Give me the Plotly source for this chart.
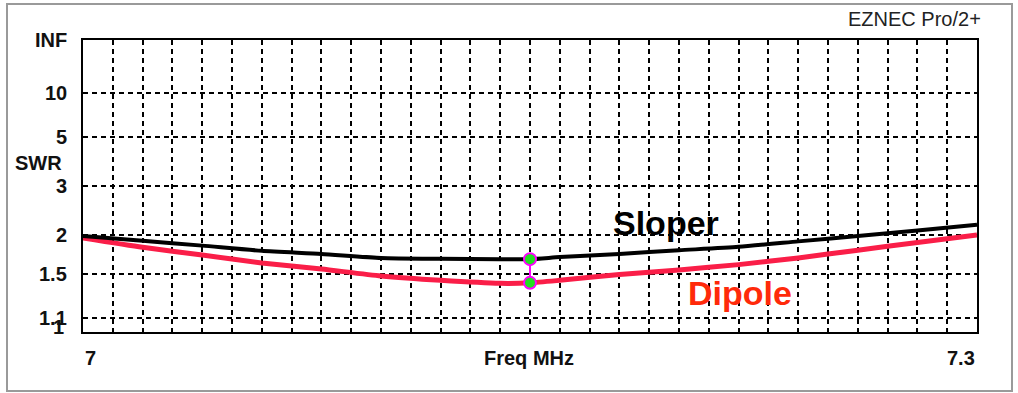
import plotly.graph_objects as go

# ---- data ----
freq = [7.00, 7.02, 7.04, 7.06, 7.08, 7.10, 7.12, 7.14, 7.15, 7.16, 7.18, 7.20, 7.22, 7.24, 7.26, 7.28, 7.30]
sloper_swr = [1.98, 1.91, 1.84, 1.77, 1.73, 1.68, 1.67, 1.665, 1.665, 1.69, 1.73, 1.777, 1.824, 1.90, 1.98, 2.067, 2.16]
dipole_swr = [1.95, 1.817, 1.715, 1.62, 1.55, 1.475, 1.43, 1.40, 1.405, 1.43, 1.49, 1.54, 1.60, 1.68, 1.778, 1.884, 1.995]
swr_grid = [1.1, 1.5, 2, 3, 5, 10]
swr_grid_labels = ["1.1", "1.5", "2", "3", "5", "10"]
freq_grid = [round(7.00 + 0.01 * i, 2) for i in range(1, 30)]
x_end_labels = ["7", "7.3"]
marker_freq = 7.15


def rho(s):
    # EZNEC SWR scale is linear in reflection coefficient
    return (s - 1.0) / (s + 1.0)


L, R, T, B = 83, 41, 40, 61
W, H = 1018, 393
PW, PH = W - L - R, H - T - B


def px(X):
    return (X - L) / PW


def py(Y):
    return (H - B - Y) / PH


FAM = "Liberation Sans, Arial, sans-serif"
LABEL_FONT = dict(family=FAM, size=20, color="#111111")
mi = freq.index(marker_freq)

fig = go.Figure()
fig.add_trace(go.Scatter(x=freq, y=[rho(s) for s in dipole_swr], mode="lines",
                         line=dict(color="#fa1e48", width=5, shape="spline", smoothing=0.6),
                         showlegend=False, hoverinfo="skip"))
fig.add_trace(go.Scatter(x=freq, y=[rho(s) for s in sloper_swr], mode="lines",
                         line=dict(color="#000000", width=4, shape="spline", smoothing=0.6),
                         showlegend=False, hoverinfo="skip"))
fig.add_trace(go.Scatter(x=[marker_freq, marker_freq],
                         y=[rho(sloper_swr[mi]), rho(dipole_swr[mi])], mode="lines+markers",
                         line=dict(color="#ff00ff", width=2),
                         marker=dict(size=12, color="#22dd22", line=dict(color="#ff00ff", width=2)),
                         showlegend=False, hoverinfo="skip"))

annotations = []
for v, t in zip(swr_grid, swr_grid_labels):
    annotations.append(dict(xref="paper", yref="y", x=0, y=rho(v), xshift=-14, xanchor="right",
                            yanchor="middle", text="<b>%s</b>" % t, showarrow=False, font=LABEL_FONT))
annotations.append(dict(xref="paper", yref="paper", x=0, y=1, xshift=-14, xanchor="right", yanchor="middle",
                        text="<b>INF</b>", showarrow=False, font=LABEL_FONT))
annotations.append(dict(xref="paper", yref="paper", x=0, y=0, xshift=-17, yshift=5, xanchor="right",
                        yanchor="middle", text="<b>1</b>", showarrow=False, font=LABEL_FONT))
annotations.append(dict(xref="paper", yref="paper", x=0, y=py(163), xshift=-19, xanchor="right",
                        yanchor="middle", text="<b>SWR</b>", showarrow=False, font=LABEL_FONT))
annotations.append(dict(xref="x", yref="paper", x=freq[0], y=py(358), xanchor="left", yanchor="middle",
                        text="<b>%s</b>" % x_end_labels[0], showarrow=False, font=LABEL_FONT))
annotations.append(dict(xref="x", yref="paper", x=freq[-1], y=py(358), xanchor="right", yanchor="middle",
                        text="<b>%s</b>" % x_end_labels[1], showarrow=False, font=LABEL_FONT))
annotations.append(dict(xref="paper", yref="paper", x=px(529), y=py(358), xanchor="center", yanchor="middle",
                        text="<b>Freq MHz</b>", showarrow=False, font=LABEL_FONT))
annotations.append(dict(xref="paper", yref="paper", x=px(983), y=py(19), xanchor="right", yanchor="middle",
                        text="EZNEC Pro/2+", showarrow=False,
                        font=dict(family=FAM, size=20, color="#222222")))
annotations.append(dict(xref="paper", yref="paper", x=px(666), y=py(223), xanchor="center", yanchor="middle",
                        text="<b>Sloper</b>", showarrow=False,
                        font=dict(family=FAM, size=34, color="#000000")))
annotations.append(dict(xref="paper", yref="paper", x=px(740), y=py(293), xanchor="center", yanchor="middle",
                        text="<b>Dipole</b>", showarrow=False,
                        font=dict(family=FAM, size=34, color="#ff2a0a")))

shapes = [dict(type="rect", xref="paper", yref="paper", x0=px(7), x1=px(1012), y0=py(391), y1=py(4),
               line=dict(color="#9a9a9a", width=2), fillcolor="rgba(0,0,0,0)", layer="below")]

fig.update_layout(
    width=W, height=H,
    margin=dict(l=L, r=R, t=T, b=B, pad=0),
    paper_bgcolor="#ffffff", plot_bgcolor="#ffffff",
    annotations=annotations, shapes=shapes,
    xaxis=dict(range=[freq[0], freq[-1]], tickvals=freq_grid, showticklabels=False, ticks="",
               showgrid=True, gridcolor="#000000", gridwidth=1.6, griddash="5px,4px",
               showline=True, linecolor="#000000", linewidth=2, mirror=True, zeroline=False),
    yaxis=dict(range=[0, 1], tickvals=[rho(v) for v in swr_grid], showticklabels=False, ticks="",
               showgrid=True, gridcolor="#000000", gridwidth=1.6, griddash="5px,4px",
               showline=True, linecolor="#000000", linewidth=2, mirror=True, zeroline=False),
)

fig.write_html("out.html", config={"displayModeBar": False},
               post_script="document.body.style.margin='0';document.body.style.padding='0';")
